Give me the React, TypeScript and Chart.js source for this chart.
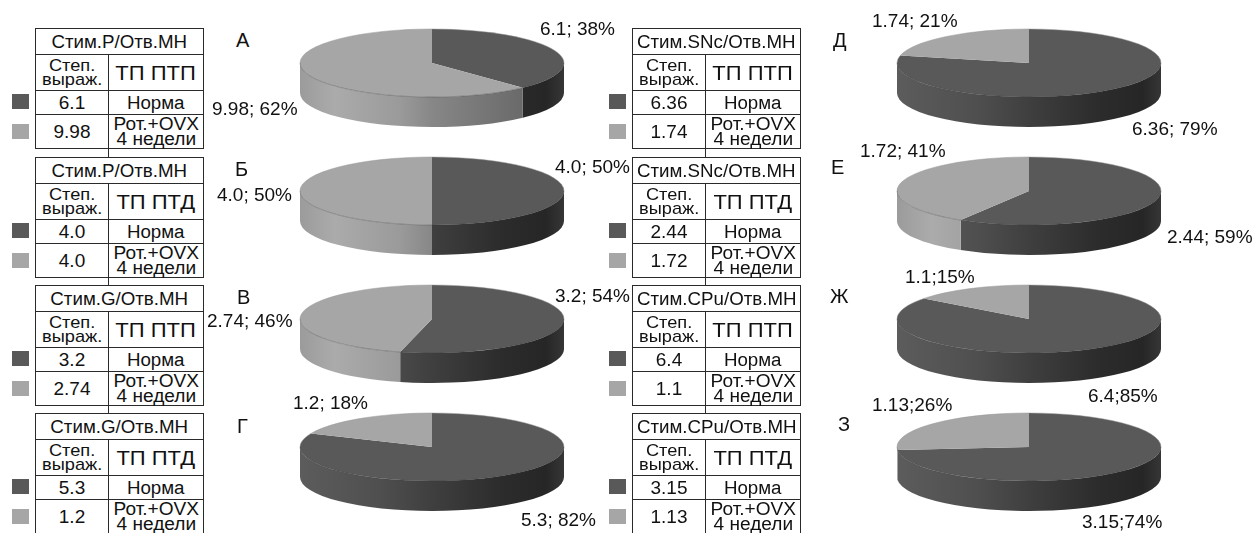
import React, { useEffect, useRef } from "react";
import { Chart, registerables } from "chart.js";

Chart.register(...registerables);

// ---------- data ----------
const panelLetters = ["А", "Б", "В", "Г", "Д", "Е", "Ж", "З"];
const stimLabels = [
  "Стим.P/Отв.МН",
  "Стим.P/Отв.МН",
  "Стим.G/Отв.МН",
  "Стим.G/Отв.МН",
  "Стим.SNc/Отв.МН",
  "Стим.SNc/Отв.МН",
  "Стим.CPu/Отв.МН",
  "Стим.CPu/Отв.МН",
];
const pathwayLabels = ["ТП ПТП", "ТП ПТД", "ТП ПТП", "ТП ПТД", "ТП ПТП", "ТП ПТД", "ТП ПТП", "ТП ПТД"];
const normaValues = [6.1, 4.0, 3.2, 5.3, 6.36, 2.44, 6.4, 3.15];
const rotValues = [9.98, 4.0, 2.74, 1.2, 1.74, 1.72, 1.1, 1.13];
const groupLabels = ["Норма", "Рот.+OVX\n4 недели"];
const degreeLabel = "Степ.\nвыраж.";
const labelSeparators = ["; ", "; ", "; ", "; ", "; ", "; ", ";", ";"];

// ---------- style / layout ----------
const FONT = '"Liberation Sans", Arial, Helvetica, sans-serif';
const sliceColors = ["#595959", "#a6a6a6"];
const wallShades: [number, string][][] = [
  [
    [0, "#5c5c5c"],
    [0.3, "#4f4f4f"],
    [0.5, "#3f3f3f"],
    [0.76, "#2c2c2c"],
    [0.93, "#262626"],
    [1, "#363636"],
  ],
  [
    [0, "#9b9b9b"],
    [0.13, "#ababab"],
    [0.38, "#9a9a9a"],
    [0.5, "#878787"],
    [0.84, "#6a6a6a"],
    [1, "#626262"],
  ],
];
const colX = [0, 597];
const tableTops = [28, 157, 285, 413];
const pieCentersY = [63, 191, 319, 447];
const letterPos = [
  [236, 33],
  [235, 162],
  [237, 290],
  [237, 419],
  [833, 33],
  [831, 160],
  [830, 289],
  [838, 417],
];
// value label anchors: [x, centerY] for Норма slice, then Рот. slice
const labelPos = [
  [[540, 28], [212, 108]],
  [[555, 166], [217, 194]],
  [[555, 295], [207, 320]],
  [[521, 519], [293, 402]],
  [[1132, 128], [872, 20]],
  [[1167, 236], [860, 150]],
  [[1088, 395], [905, 276]],
  [[1082, 521], [872, 404]],
];
const PIE = { w: 300, h: 112, tx: 150, ty: 40, rx: 132, ry: 34, depth: 30 };

const fmt = (v: number) => {
  const s = String(v);
  return s.includes(".") ? s : s + ".0";
};

// ---------- 3D pie plugin ----------
const pie3d = {
  id: "pie3d",
  beforeDatasetsDraw(chart: any) {
    const meta = chart.getDatasetMeta(0);
    const arcs = meta.data;
    if (!arcs.length) return;
    const ctx = chart.ctx as CanvasRenderingContext2D;
    const { x: cx, y: cy, outerRadius: R } = arcs[0].getProps(["x", "y", "outerRadius"], true);
    const { tx, ty, rx, ry, depth } = PIE;
    arcs.forEach((arc: any, i: number) => {
      const { startAngle, endAngle } = arc.getProps(["startAngle", "endAngle"], true);
      const s = Math.max(startAngle, 0);
      const e = Math.min(endAngle, Math.PI);
      if (e <= s) return;
      const g = ctx.createLinearGradient(tx - rx, 0, tx + rx, 0);
      wallShades[i % 2].forEach(([p, c]) => g.addColorStop(p, c));
      ctx.beginPath();
      ctx.ellipse(tx, ty, rx, ry, 0, s, e, false);
      ctx.ellipse(tx, ty + depth, rx, ry, 0, e, s, true);
      ctx.closePath();
      ctx.fillStyle = g;
      ctx.fill();
    });
    ctx.save();
    ctx.translate(tx, ty);
    ctx.scale(rx / R, ry / R);
    ctx.translate(-cx, -cy);
  },
  afterDatasetsDraw(chart: any) {
    const ctx = chart.ctx as CanvasRenderingContext2D;
    ctx.restore();
    const { tx, ty, rx, ry } = PIE;
    ctx.save();
    ctx.lineWidth = 0.8;
    ctx.strokeStyle = "rgba(60,60,60,0.45)";
    ctx.beginPath();
    ctx.ellipse(tx, ty, rx, ry, 0, 0, Math.PI, false);
    ctx.stroke();
    ctx.strokeStyle = "rgba(150,150,150,0.6)";
    ctx.beginPath();
    ctx.ellipse(tx, ty, rx, ry, 0, Math.PI, 2 * Math.PI, false);
    ctx.stroke();
    ctx.restore();
  },
};

function Pie3D({ idx }: { idx: number }) {
  const ref = useRef<HTMLCanvasElement>(null);
  useEffect(() => {
    const chart = new Chart(ref.current as HTMLCanvasElement, {
      type: "pie",
      data: {
        labels: groupLabels,
        datasets: [
          {
            data: [normaValues[idx], rotValues[idx]],
            backgroundColor: sliceColors,
            borderWidth: 0,
            clip: false as any,
          },
        ],
      },
      options: {
        responsive: false,
        animation: false,
        devicePixelRatio: 1,
        events: [],
        layout: { padding: 0 },
        plugins: { legend: { display: false }, tooltip: { enabled: false } },
      },
      plugins: [pie3d as any],
    });
    return () => chart.destroy();
  }, [idx]);
  const cx = idx < 4 ? 432 : 1029;
  const cy = pieCentersY[idx % 4];
  return (
    <canvas
      ref={ref}
      width={PIE.w}
      height={PIE.h}
      style={{ position: "absolute", left: cx - PIE.tx, top: cy - PIE.ty, width: PIE.w, height: PIE.h }}
    />
  );
}

const BORDER = "1px solid #2a2a2a";

function LegendTable({ idx }: { idx: number }) {
  const ox = colX[idx < 4 ? 0 : 1];
  const top = tableTops[idx % 4];
  const left = 35 + ox;
  const W = 169;
  const c1 = 73;
  const rows = [0, 26, 62, 86, 121];
  const cell = (
    x: number,
    y: number,
    w: number,
    h: number,
    content: React.ReactNode,
    fs: number,
    lh: number,
    sx: number
  ) => (
    <div
      style={{
        position: "absolute",
        left: x,
        top: y,
        width: w,
        height: h,
        display: "flex",
        alignItems: "center",
        justifyContent: "center",
        textAlign: "center",
        fontSize: fs,
        lineHeight: lh + "px",
        whiteSpace: "pre",
        color: "#111",
      }}
    >
      <span style={{ display: "inline-block", transform: `scaleX(${sx})` }}>{content}</span>
    </div>
  );
  const iw = W - 2;
  return (
    <>
      <div
        style={{
          position: "absolute",
          left,
          top,
          width: W,
          height: rows[4],
          border: BORDER,
          boxSizing: "border-box",
        }}
      >
        {[1, 2, 3].map((r) => (
          <div key={r} style={{ position: "absolute", left: 0, right: 0, top: rows[r] - 1, borderTop: BORDER }} />
        ))}
        <div style={{ position: "absolute", left: c1 - 1, top: rows[1] - 1, bottom: 0, borderLeft: BORDER }} />
        {cell(0, 0, iw, rows[1] - 1, stimLabels[idx], 18, 20, 1.04)}
        {cell(0, rows[1], c1 - 1, rows[2] - rows[1] - 1, degreeLabel, 17, 14, 1.07)}
        {cell(c1, rows[1], iw - c1, rows[2] - rows[1] - 1, pathwayLabels[idx], 20, 22, 1.1)}
        {cell(0, rows[2], c1 - 1, rows[3] - rows[2] - 1, fmt(normaValues[idx]), 19, 20, 1.0)}
        {cell(c1, rows[2], iw - c1, rows[3] - rows[2] - 1, groupLabels[0], 18, 20, 1.04)}
        {cell(0, rows[3], c1 - 1, rows[4] - rows[3] - 2, fmt(rotValues[idx]), 19, 20, 1.0)}
        {cell(c1, rows[3], iw - c1, rows[4] - rows[3] - 2, groupLabels[1], 18, 15, 1.06)}
      </div>
      <div style={{ position: "absolute", left: 12 + ox, top: top + 66, width: 17, height: 15, background: sliceColors[0] }} />
      <div style={{ position: "absolute", left: 12 + ox, top: top + 96, width: 17, height: 15, background: sliceColors[1] }} />
      {idx % 4 < 3 && (
        <div
          style={{
            position: "absolute",
            left: left + c1,
            top: top + rows[4],
            height: tableTops[(idx % 4) + 1] - top - rows[4],
            borderLeft: BORDER,
          }}
        />
      )}
    </>
  );
}

function Panel({ idx }: { idx: number }) {
  const tot = normaValues[idx] + rotValues[idx];
  const vals = [normaValues[idx], rotValues[idx]];
  return (
    <>
      <LegendTable idx={idx} />
      <div
        style={{
          position: "absolute",
          left: letterPos[idx][0],
          top: letterPos[idx][1] - 3,
          fontSize: 20,
          lineHeight: "20px",
          color: "#111",
        }}
      >
        {panelLetters[idx]}
      </div>
      <Pie3D idx={idx} />
      {vals.map((v, k) => (
        <div
          key={k}
          style={{
            position: "absolute",
            left: labelPos[idx][k][0],
            top: labelPos[idx][k][1] - 9.5,
            fontSize: 19,
            lineHeight: "19px",
            whiteSpace: "nowrap",
            color: "#111",
          }}
        >
          {fmt(v) + labelSeparators[idx] + Math.round((v / tot) * 100) + "%"}
        </div>
      ))}
    </>
  );
}

export default function App() {
  return (
    <div
      style={{
        position: "fixed",
        left: 0,
        top: 0,
        width: 1256,
        height: 533,
        background: "#fff",
        fontFamily: FONT,
        overflow: "hidden",
      }}
    >
      {panelLetters.map((_, i) => (
        <Panel key={i} idx={i} />
      ))}
    </div>
  );
}
